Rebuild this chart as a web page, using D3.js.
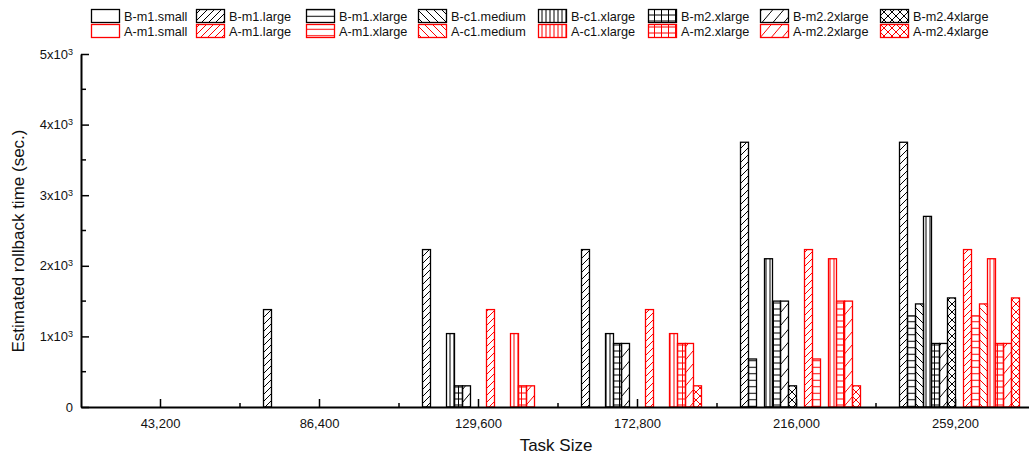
<!DOCTYPE html>
<html>
<head>
<meta charset="utf-8">
<script src="https://cdn.jsdelivr.net/npm/d3@7"></script>
<style>
  body { margin: 0; background: #fff; }
  text { font-family: "Liberation Sans", Arial, sans-serif; fill: #111; }
</style>
</head>
<body>
<div id="root"></div>
<script>
// task sizes on the x axis
var taskSizes = ["43,200", "86,400", "129,600", "172,800", "216,000", "259,200"];
var instanceTypes = ["m1.small", "m1.large", "m1.xlarge", "c1.medium", "c1.xlarge", "m2.xlarge", "m2.2xlarge", "m2.4xlarge"];

// B series (black)
var B_m1_small   = [0, 0, 0, 0, 0, 0];
var B_m1_large   = [0, 1380, 2230, 2230, 3750, 3750];
var B_m1_xlarge  = [0, 0, 0, 0, 680, 1290];
var B_c1_medium  = [0, 0, 0, 0, 0, 1460];
var B_c1_xlarge  = [0, 0, 1040, 1040, 2100, 2700];
var B_m2_xlarge  = [0, 0, 300, 900, 1500, 900];
var B_m2_2xlarge = [0, 0, 300, 900, 1500, 900];
var B_m2_4xlarge = [0, 0, 0, 0, 300, 1545];
// A series (red)
var A_m1_small   = [0, 0, 0, 0, 0, 0];
var A_m1_large   = [0, 0, 1380, 1380, 2230, 2230];
var A_m1_xlarge  = [0, 0, 0, 0, 680, 1290];
var A_c1_medium  = [0, 0, 0, 0, 0, 1460];
var A_c1_xlarge  = [0, 0, 1040, 1040, 2100, 2100];
var A_m2_xlarge  = [0, 0, 300, 900, 1500, 900];
var A_m2_2xlarge = [0, 0, 300, 900, 1500, 900];
var A_m2_4xlarge = [0, 0, 0, 300, 300, 1545];

var yTicks = [0, 1000, 2000, 3000, 4000, 5000];

var bValues = [B_m1_small, B_m1_large, B_m1_xlarge, B_c1_medium, B_c1_xlarge, B_m2_xlarge, B_m2_2xlarge, B_m2_4xlarge];
var aValues = [A_m1_small, A_m1_large, A_m1_xlarge, A_c1_medium, A_c1_xlarge, A_m2_xlarge, A_m2_2xlarge, A_m2_4xlarge];

var series = [];
instanceTypes.forEach(function(t, i) { series.push({key: "B-" + t, type: i, color: "#000", values: bValues[i]}); });
instanceTypes.forEach(function(t, i) { series.push({key: "A-" + t, type: i, color: "#ff0000", values: aValues[i]}); });

var w = 1029, h = 460;
var margin = {left: 81, bottom: 407, top: 54};
var step = 159, groupW = 128;

var svg = d3.select("#root").append("svg").attr("width", w).attr("height", h);
var defs = svg.append("defs");

// hatch patterns, one per instance type, in black and red
function makePattern(id, type, color) {
  var p, sw = 1;
  if (type === 0) return null;
  if (type === 1) { // "/" dense
    p = defs.append("pattern").attr("id", id).attr("patternUnits", "userSpaceOnUse").attr("width", 7).attr("height", 7);
    p.append("path").attr("d", "M-1,8L8,-1M-1,1L1,-1M6,8L8,6");
  } else if (type === 2) { // horizontal
    p = defs.append("pattern").attr("id", id).attr("patternUnits", "userSpaceOnUse").attr("width", 8).attr("height", 6.5);
    p.append("path").attr("d", "M0,3.25H8");
  } else if (type === 3) { // "\"
    p = defs.append("pattern").attr("id", id).attr("patternUnits", "userSpaceOnUse").attr("width", 8).attr("height", 8);
    p.append("path").attr("d", "M-1,-1L9,9M-1,7L1,9M7,-1L9,1");
  } else if (type === 4) { // vertical
    p = defs.append("pattern").attr("id", id).attr("patternUnits", "userSpaceOnUse").attr("width", 4).attr("height", 8);
    p.append("path").attr("d", "M2,0V8");
  } else if (type === 5) { // grid
    p = defs.append("pattern").attr("id", id).attr("patternUnits", "userSpaceOnUse").attr("width", 7).attr("height", 6);
    p.append("path").attr("d", "M0,3H7M3.5,0V6");
  } else if (type === 6) { // "/" sparse, steep
    p = defs.append("pattern").attr("id", id).attr("patternUnits", "userSpaceOnUse").attr("width", 11).attr("height", 13);
    p.append("path").attr("d", "M0,13L11,0");
  } else { // crosshatch
    p = defs.append("pattern").attr("id", id).attr("patternUnits", "userSpaceOnUse").attr("width", 8).attr("height", 8);
    p.append("path").attr("d", "M0,0L8,8M8,0L0,8");
  }
  p.select("path").attr("stroke", color).attr("stroke-width", sw).attr("fill", "none");
  return id;
}
series.forEach(function(s) {
  s.pid = makePattern("pat" + s.key.replace(/\./g, "_"), s.type, s.color);
});

var x0 = d3.scaleBand().domain(taskSizes).range([margin.left, margin.left + step * taskSizes.length]);
var x1 = d3.scaleBand().domain(series.map(function(s) { return s.key; })).range([0, groupW]);
var y = d3.scaleLinear().domain([0, 5000]).range([margin.bottom, margin.top]);

// bars
var groups = svg.selectAll("g.series").data(series).enter().append("g").attr("class", "series");
groups.each(function(s) {
  var g = d3.select(this);
  var pts = s.values.map(function(v, i) { return {cat: taskSizes[i], v: v}; }).filter(function(d) { return d.v > 0; });
  g.selectAll("rect.bg").data(pts).enter().append("rect")
    .attr("x", function(d) { return x0(d.cat) + (x0.bandwidth() - groupW) / 2 + x1(s.key); })
    .attr("y", function(d) { return y(d.v); })
    .attr("width", x1.bandwidth())
    .attr("height", function(d) { return y(0) - y(d.v); })
    .attr("fill", s.pid ? "url(#" + s.pid + ")" : "#fff")
    .attr("stroke", s.color).attr("stroke-width", 1.3);
});

// x axis
var xAxis = d3.axisBottom(x0).tickSizeInner(-8).tickSizeOuter(0).tickPadding(12);
var gx = svg.append("g").attr("transform", "translate(0," + margin.bottom + ")").call(xAxis);
gx.selectAll("text").style("font-size", "13px").attr("fill", "#111");
gx.selectAll("line").attr("stroke-width", 1.5);
gx.select(".domain").attr("stroke-width", 2);
gx.selectAll("line.minor").data(taskSizes.slice(1)).enter().append("line").attr("class", "minor")
  .attr("x1", function(d) { return x0(d); }).attr("x2", function(d) { return x0(d); })
  .attr("y1", 0).attr("y2", -4).attr("stroke", "#000").attr("stroke-width", 1.5);

// y axis
var yAxis = d3.axisLeft(y).tickValues(yTicks).tickSizeInner(-8).tickSizeOuter(0).tickPadding(8).tickFormat(function() { return ""; });
var gy = svg.append("g").attr("transform", "translate(" + margin.left + ",0)").call(yAxis);
gy.select(".domain").attr("stroke-width", 2);
gy.selectAll("line").attr("stroke-width", 1.5);
gy.selectAll(".tick text").style("font-size", "13px").each(function(d) {
  var t = d3.select(this);
  if (d === 0) { t.text("0"); return; }
  t.text(d / 1000 + "x10");
  t.append("tspan").attr("dy", "-0.45em").style("font-size", "9px").text("3");
});
var minorY = d3.range(500, 5000, 1000);
gy.selectAll("line.minor").data(minorY).enter().append("line").attr("class", "minor")
  .attr("x1", 0).attr("x2", 5).attr("y1", function(d) { return y(d); }).attr("y2", function(d) { return y(d); })
  .attr("stroke", "#000").attr("stroke-width", 1.5);

// axis titles
svg.append("text").attr("x", (margin.left + w) / 2 + 1).attr("y", 451).attr("text-anchor", "middle")
  .style("font-size", "17px").text("Task Size");
svg.append("text").attr("transform", "translate(24,241) rotate(-90)").attr("text-anchor", "middle")
  .style("font-size", "17px").text("Estimated rollback time (sec.)");

// legend
var legendX = [91, 196, 306, 418, 538, 648, 760, 880];
var legendY = [9, 24];
var leg = svg.append("g");
series.forEach(function(s, i) {
  var col = s.type, row = i < 8 ? 0 : 1;
  leg.append("rect").attr("x", legendX[col] + 0.5).attr("y", legendY[row] + 0.5).attr("width", 28).attr("height", 13)
    .attr("fill", s.pid ? "url(#" + s.pid + ")" : "#fff").attr("stroke", s.color).attr("stroke-width", 1.3);
  leg.append("text").attr("x", legendX[col] + 33).attr("y", legendY[row] + 11.5)
    .style("font-size", "12.7px").text(s.key);
});
</script>
</body>
</html>
